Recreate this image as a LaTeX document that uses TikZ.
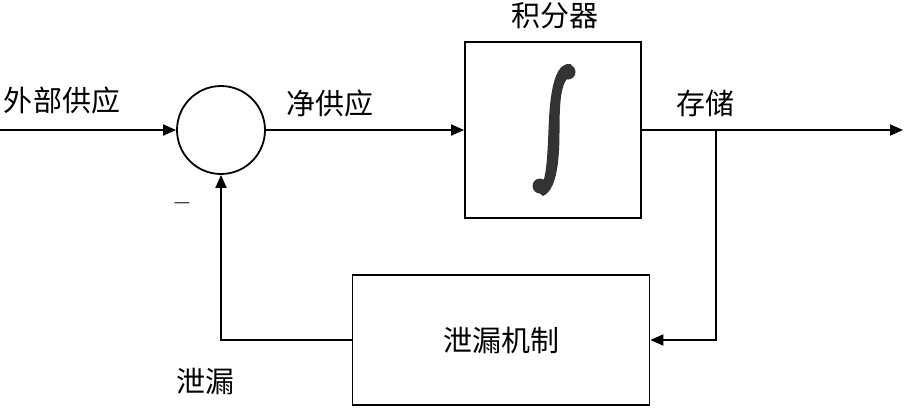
\documentclass[tikz,border=0pt]{standalone}
\usepackage{fontspec}
\newfontfamily\cjk{Noto Sans CJK SC}
\usepackage{amsmath, amssymb}
\usetikzlibrary{positioning, calc, arrows.meta}
\definecolor{Dark}{HTML}{000000}
\definecolor{Ink}{HTML}{333333}
\tikzset{
    blocco/.style={rectangle, draw=Dark, line width=1.8pt, fill=white, align=center, font=\cjk\fontsize{29}{32}\selectfont},
    somma/.style={circle, draw=Dark, line width=1.8pt, minimum size=88pt, inner sep=0pt},
    etichetta/.style={font=\cjk\fontsize{29}{32}\selectfont, text=Dark, inner sep=0pt},
    freccia/.style={-{Triangle[length=13pt,width=11pt]}, line width=1.8pt, color=Dark},
}

\begin{document}
\begin{tikzpicture}[x=1pt, y=-1pt]
            \useasboundingbox (0,0) rectangle (904,407);
            % Blocchi
            \node[somma] (sum) at (221,130) {};
            \node[blocco, minimum width=176pt, minimum height=176pt] (integ) at (553,130) {};
            \node[blocco, minimum width=297pt, minimum height=130pt] (leak) at (501,340) {泄漏机制};
            
            % Simbolo di integrale
            \fill[Ink] (571,64) .. controls (558,62) and (550,80) .. (548.5,130)
                .. controls (547,165) and (546,182) .. (538,192) -- (543,196)
                .. controls (556,190) and (559.5,165) .. (559.5,130)
                .. controls (559.5,95) and (562,78) .. (573,75) -- cycle;
            \fill[Ink] (568,72) circle (7.5);
            \fill[Ink] (540,186) circle (7.5);
            
            % Punti liberi
            \coordinate (in) at (0,130);
            \coordinate (out) at (903,130);
            \coordinate (branch) at (716,130);
            
            % Collegamenti
            \draw[freccia] (in) -- (sum.west);
            \draw[freccia] (sum.east) -- (integ.west);
            \draw[freccia] (integ.east) -- (out);
            \draw[freccia] (branch) |- (leak.east);
            \draw[freccia] (leak.west) -| (sum.south);
            
            % Etichette
            \node[etichetta] (lin) at (62,100) {外部供应};
            \node[etichetta] (lnet) at (330,103) {净供应};
            \node[etichetta] (linteg) at (555,16) {积分器};
            \node[etichetta] (lstore) at (705,103) {存储};
            \node[etichetta] (lleak) at (205,381) {泄漏};
            \node[font=\fontsize{24}{24}\selectfont, inner sep=0pt] (minus) at (182,203) {$-$};
        \end{tikzpicture}
\end{document}
